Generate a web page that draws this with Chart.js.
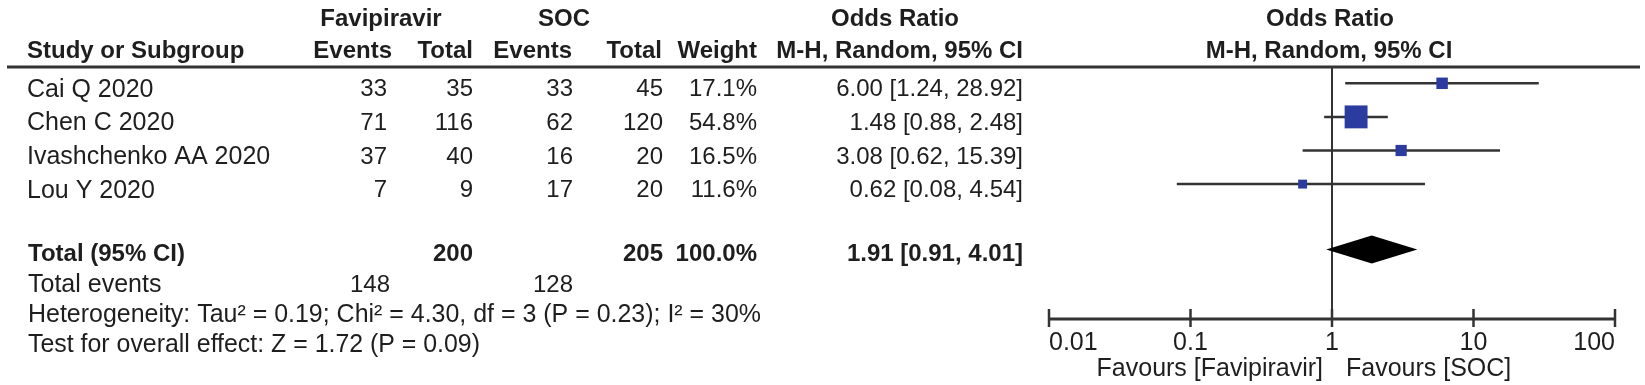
<!DOCTYPE html>
<html>
<head>
<meta charset="utf-8">
<script src="https://cdn.jsdelivr.net/npm/chart.js@4.4.1/dist/chart.umd.min.js"></script>
<style>
  html, body { margin: 0; padding: 0; background: #ffffff; }
  #wrap { width: 1645px; height: 385px; position: relative; }
</style>
</head>
<body>
<div id="wrap"><canvas id="c" width="1645" height="385"></canvas></div>
<script>
// ---------- data ----------
const studies   = ['Cai Q 2020', 'Chen C 2020', 'Ivashchenko AA 2020', 'Lou Y 2020'];
const favEvents = [33, 71, 37, 7];
const favTotal  = [35, 116, 40, 9];
const socEvents = [33, 62, 16, 17];
const socTotal  = [45, 120, 20, 20];
const weights   = [17.1, 54.8, 16.5, 11.6];
const oddsRatio = [6.00, 1.48, 3.08, 0.62];
const ciLower   = [1.24, 0.88, 0.62, 0.08];
const ciUpper   = [28.92, 2.48, 15.39, 4.54];
const pooledOR  = [1.91, 0.91, 4.01];          // estimate, lower, upper
const totalN    = [200, 205];                  // Favipiravir, SOC
const totalEv   = [148, 128];                  // Favipiravir, SOC
const axisTicks = [0.01, 0.1, 1, 10, 100];
const tickLabels = ['0.01', '0.1', '1', '10', '100'];
const heterogeneityText = 'Heterogeneity: Tau\u00B2 = 0.19; Chi\u00B2 = 4.30, df = 3 (P = 0.23); I\u00B2 = 30%';
const overallText = 'Test for overall effect: Z = 1.72 (P = 0.09)';

// ---------- layout helpers (positions / styles) ----------
const FONT = '"Liberation Sans", Arial, sans-serif';
const FS = 24;
const TEXT = '#1e1e1e';
const LINE = '#333333';
const BLUE = '#2c3c9e';
const TOTAL_ROW = 4.95;

const ciDatasets = studies.map((s, i) => ({
  type: 'line',
  label: s + ' CI',
  data: [{ x: ciLower[i], y: i }, { x: ciUpper[i], y: i }],
  borderColor: LINE,
  borderWidth: 2.5,
  pointRadius: 0,
  showLine: true,
  order: 2
}));

const sq = w => (3.5 * Math.sqrt(w) - 3) / (2 * Math.SQRT1_2);
const squareDataset = {
  type: 'scatter',
  label: 'Study OR',
  data: oddsRatio.map((v, i) => ({ x: v, y: i })),
  pointStyle: 'rect',
  pointRadius: weights.map(sq),
  pointHoverRadius: weights.map(sq),
  backgroundColor: BLUE,
  borderColor: BLUE,
  borderWidth: 0,
  order: 1
};

function txt(ctx, s, x, yCenter, align, bold, size, fitW) {
  const fs = size || FS;
  ctx.font = (bold ? 'bold ' : '') + fs + 'px ' + FONT;
  ctx.textAlign = align;
  ctx.textBaseline = 'alphabetic';
  ctx.fillStyle = TEXT;
  const y = yCenter + 0.36 * fs;
  if (fitW) {
    const w = ctx.measureText(s).width;
    const k = fitW / w;
    ctx.save();
    ctx.translate(x, y);
    ctx.scale(k, 1);
    ctx.fillText(s, 0, 0);
    ctx.restore();
  } else {
    ctx.fillText(s, x, y);
  }
}

const forestPlugin = {
  id: 'forest',
  beforeDatasetsDraw(chart) {
    const ctx = chart.ctx;
    const xs = chart.scales.x, ys = chart.scales.y;
    const area = chart.chartArea;
    ctx.save();
    // header rule
    ctx.strokeStyle = LINE;
    ctx.lineWidth = 3;
    ctx.beginPath(); ctx.moveTo(7, area.top); ctx.lineTo(1640, area.top); ctx.stroke();
    // line of no effect
    const x1 = xs.getPixelForValue(1);
    ctx.lineWidth = 2;
    ctx.beginPath(); ctx.moveTo(x1, area.top); ctx.lineTo(x1, area.bottom); ctx.stroke();
    // axis
    const xa = xs.getPixelForValue(axisTicks[0]);
    const xb = xs.getPixelForValue(axisTicks[axisTicks.length - 1]);
    ctx.lineWidth = 3;
    ctx.beginPath(); ctx.moveTo(xa, area.bottom); ctx.lineTo(xb, area.bottom); ctx.stroke();
    ctx.lineWidth = 2.5;
    axisTicks.forEach((t, k) => {
      const px = xs.getPixelForValue(t);
      ctx.beginPath(); ctx.moveTo(px, area.bottom - 10); ctx.lineTo(px, area.bottom + 8); ctx.stroke();
      const al = k === 0 ? 'left' : (k === axisTicks.length - 1 ? 'right' : 'center');
      txt(ctx, tickLabels[k], px, area.bottom + 22, al, false, 25);
    });
    // diamond
    const yd = ys.getPixelForValue(TOTAL_ROW);
    ctx.fillStyle = '#000000';
    ctx.beginPath();
    ctx.moveTo(xs.getPixelForValue(pooledOR[1]), yd);
    ctx.lineTo(xs.getPixelForValue(pooledOR[0]), yd - 14);
    ctx.lineTo(xs.getPixelForValue(pooledOR[2]), yd);
    ctx.lineTo(xs.getPixelForValue(pooledOR[0]), yd + 14);
    ctx.closePath();
    ctx.fill();
    ctx.restore();
  },
  afterDraw(chart) {
    const ctx = chart.ctx;
    const xs = chart.scales.x, ys = chart.scales.y;
    const x1 = xs.getPixelForValue(1);
    ctx.save();
    // headers
    txt(ctx, 'Favipiravir', 381, 17, 'center', true);
    txt(ctx, 'SOC', 564, 17, 'center', true);
    txt(ctx, 'Odds Ratio', 895, 17, 'center', true);
    txt(ctx, 'Odds Ratio', x1 - 2, 17, 'center', true);
    txt(ctx, 'Study or Subgroup', 27, 49, 'left', true);
    txt(ctx, 'Events', 392, 49, 'right', true);
    txt(ctx, 'Total', 473, 49, 'right', true);
    txt(ctx, 'Events', 572, 49, 'right', true);
    txt(ctx, 'Total', 662, 49, 'right', true);
    txt(ctx, 'Weight', 757, 49, 'right', true);
    txt(ctx, 'M-H, Random, 95% CI', 1023, 49, 'right', true);
    txt(ctx, 'M-H, Random, 95% CI', x1 - 3, 49, 'center', true);
    // study rows
    studies.forEach((s, i) => {
      const y = ys.getPixelForValue(i) + 4.5;
      txt(ctx, s, 27, y, 'left', false, 25);
      txt(ctx, String(favEvents[i]), 387, y, 'right', false);
      txt(ctx, String(favTotal[i]), 473, y, 'right', false);
      txt(ctx, String(socEvents[i]), 573, y, 'right', false);
      txt(ctx, String(socTotal[i]), 663, y, 'right', false);
      txt(ctx, weights[i].toFixed(1) + '%', 757, y, 'right', false);
      txt(ctx, oddsRatio[i].toFixed(2) + ' [' + ciLower[i].toFixed(2) + ', ' + ciUpper[i].toFixed(2) + ']', 1023, y, 'right', false);
    });
    // total row
    const yt = ys.getPixelForValue(TOTAL_ROW) + 3;
    txt(ctx, 'Total (95% CI)', 28, yt, 'left', true);
    txt(ctx, String(totalN[0]), 473, yt, 'right', true);
    txt(ctx, String(totalN[1]), 663, yt, 'right', true);
    txt(ctx, weights.reduce((a, b) => a + b, 0).toFixed(1) + '%', 757, yt, 'right', true);
    txt(ctx, pooledOR[0].toFixed(2) + ' [' + pooledOR[1].toFixed(2) + ', ' + pooledOR[2].toFixed(2) + ']', 1023, yt, 'right', true);
    // summary lines
    txt(ctx, 'Total events', 28, 283, 'left', false, 25);
    txt(ctx, String(totalEv[0]), 390, 283, 'right', false);
    txt(ctx, String(totalEv[1]), 573, 283, 'right', false);
    txt(ctx, heterogeneityText, 28, 313, 'left', false, 25, 733);
    txt(ctx, overallText, 28, 343, 'left', false, 25, 452);
    // favours labels
    txt(ctx, 'Favours [Favipiravir]', x1 - 9, 367, 'right', false, 25);
    txt(ctx, 'Favours [SOC]', x1 + 14, 367, 'left', false, 25);
    ctx.restore();
  }
};

new Chart(document.getElementById('c'), {
  data: { datasets: [...ciDatasets, squareDataset] },
  options: {
    responsive: false,
    animation: false,
    events: [],
    layout: { padding: { left: 1049, right: 30, top: 67, bottom: 66 } },
    plugins: { legend: { display: false }, tooltip: { enabled: false } },
    scales: {
      x: { type: 'logarithmic', min: 0.01, max: 100, display: false },
      y: { type: 'linear', reverse: true, min: -0.485, max: 7.015, display: false }
    }
  },
  plugins: [forestPlugin]
});
</script>
</body>
</html>
